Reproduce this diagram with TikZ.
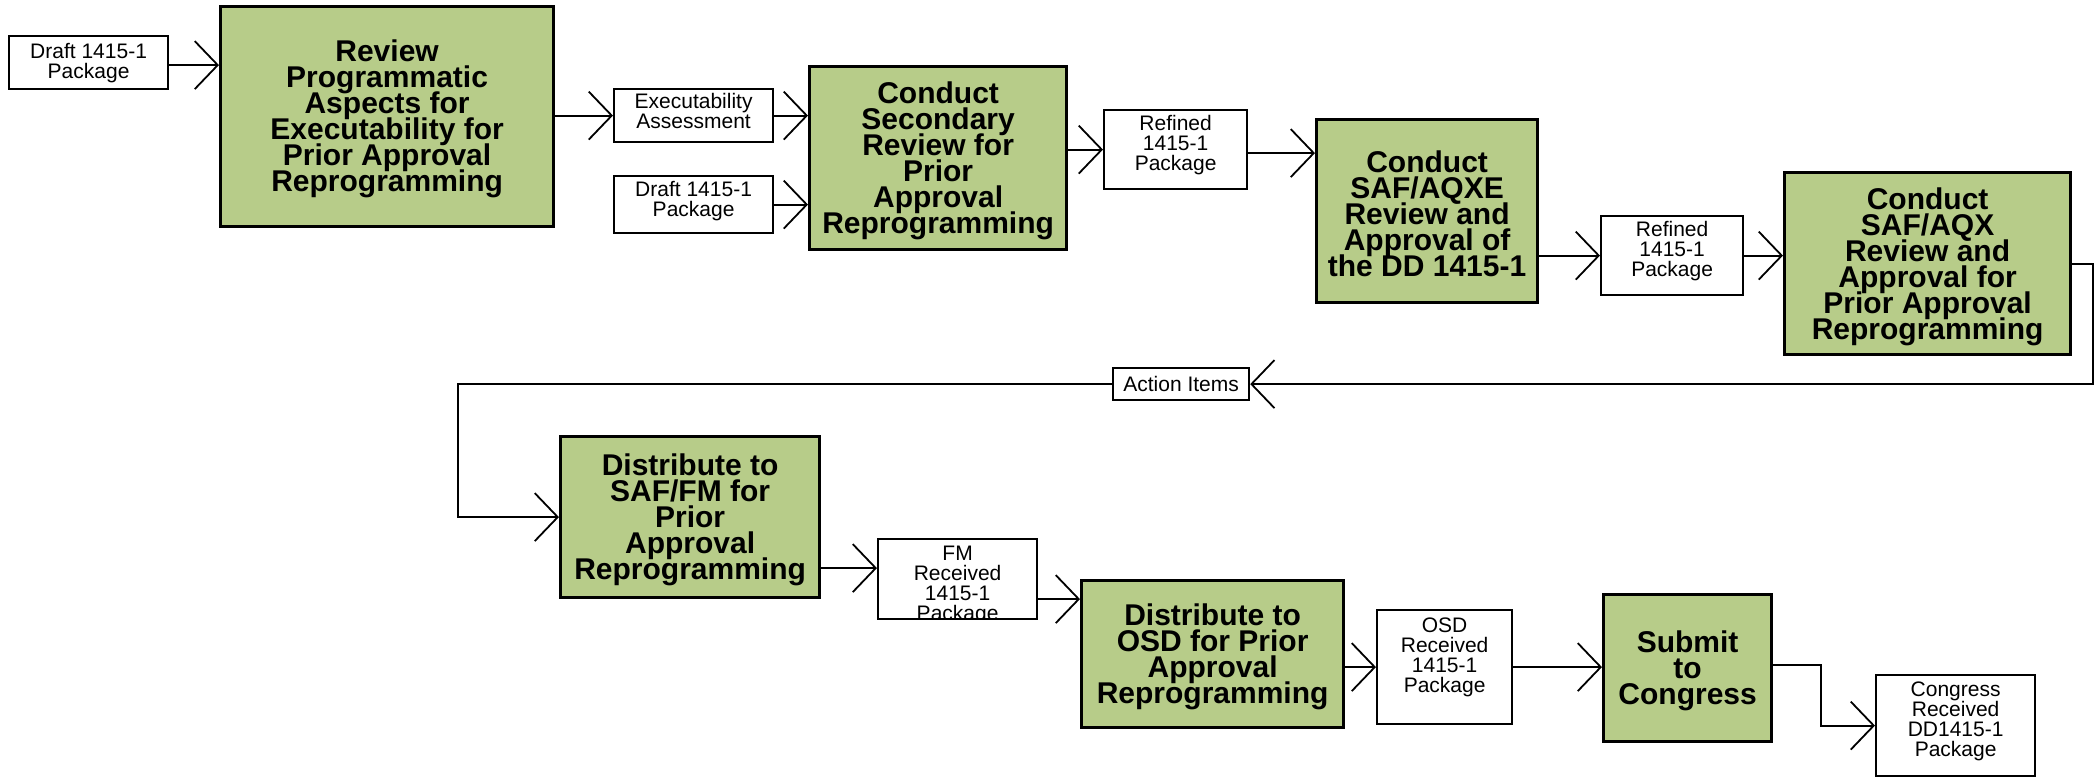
\documentclass[tikz,border=0pt]{standalone}
\usepackage{fontspec}
\setmainfont{Liberation Sans}
\usetikzlibrary{arrows.meta,calc}
\definecolor{gfill}{RGB}{183,204,137}
\newcommand{\myheight}[1]{\rule{0pt}{#1}}
\newcommand{\mydepth}[1]{\rule[-#1]{0pt}{#1}}
\newcommand{\tightlines}{\lineskiplimit -100pt\relax}
\tikzset{
  gbox/.style={draw=black, line width=3.2pt, fill=gfill, inner sep=0pt, anchor=north west,
    align=center, font=\bfseries\fontsize{30}{26}\selectfont\tightlines},
  wbox/.style={draw=black, line width=2.2pt, fill=white, inner sep=0pt, anchor=north west,
    align=center, font=\fontsize{21}{20}\selectfont\tightlines},
  conn/.style={line width=1.8pt, -{Straight Barb[length=23pt,width=48pt]}},
}
\begin{document}
\begin{tikzpicture}[x=1pt,y=-1pt]
\useasboundingbox (0,0) rectangle (2097,777);
% top row
\node[wbox, minimum width=159, minimum height=53] (d1) at (8,35) {Draft 1415-1\\Package};
\node[gbox, minimum width=333, minimum height=220] (g1) at (219,5) {\myheight{27pt}Review\\Programmatic\\Aspects for\\Executability for\\Prior Approval\\Reprogramming};
\node[wbox, minimum width=159, minimum height=53] (exec) at (613,88) {Executability\\Assessment\mydepth{8.5pt}};
\node[wbox, minimum width=159, minimum height=57] (d2) at (613,175) {Draft 1415-1\\Package\mydepth{11.5pt}};
\node[gbox, minimum width=257, minimum height=183] (g2) at (808,65) {\myheight{28pt}Conduct\\Secondary\\Review for\\Prior\\Approval\\Reprogramming};
\node[wbox, minimum width=143, minimum height=79] (ref1) at (1103,109) {Refined\\1415-1\\Package\mydepth{12.5pt}};
\node[gbox, minimum width=221, minimum height=183] (g3) at (1315,118) {\myheight{28pt}Conduct\\SAF/AQXE\\Review and\\Approval of\\the DD 1415-1};
\node[wbox, minimum width=142, minimum height=79] (ref2) at (1600,215) {Refined\\1415-1\\Package\mydepth{12.5pt}};
\node[gbox, minimum width=286, minimum height=182] (g4) at (1783,171) {\myheight{28pt}Conduct\\SAF/AQX\\Review and\\Approval for\\Prior Approval\\Reprogramming};
% middle
\node[wbox, minimum width=136, minimum height=32] (act) at (1112,367) {Action Items};
% bottom row
\node[gbox, minimum width=259, minimum height=161] (g5) at (559,435) {\myheight{28pt}Distribute to\\SAF/FM for\\Prior\\Approval\\Reprogramming};
\node[wbox, minimum width=159, minimum height=80,
  path picture={\node[anchor=center, inner sep=0pt, align=center, font=\fontsize{21}{20}\selectfont\tightlines]
    at ([yshift=-6.5pt]path picture bounding box.center) {FM\\Received\\1415-1\\Package};}] (fm) at (877,538) {};
\node[gbox, minimum width=262, minimum height=147] (g6) at (1080,579) {\myheight{28pt}Distribute to\\OSD for Prior\\Approval\\Reprogramming};
\node[wbox, minimum width=135, minimum height=114] (osd) at (1376,609) {OSD\\Received\\1415-1\\Package\mydepth{24.5pt}};
\node[gbox, minimum width=168, minimum height=147] (g7) at (1602,593) {\myheight{28pt}Submit\\to\\Congress};
\node[wbox, minimum width=159, minimum height=101] (cong) at (1875,674) {Congress\\Received\\DD1415-1\\Package\mydepth{12.5pt}};
% connectors
\draw[conn] ([yshift=-2.5pt]d1.east) -- ([yshift=-2.5pt]d1.east -| g1.west);
\draw[conn] (exec.west -| g1.east) -- (exec.west);
\draw[conn] (exec.east) -- (exec.east -| g2.west);
\draw[conn] (d2.east) -- (d2.east -| g2.west);
\draw[conn] (ref1.west -| g2.east) -- (ref1.west);
\draw[conn] ([yshift=-3.5pt]ref1.east) -- ([yshift=-3.5pt]ref1.east -| g3.west);
\draw[conn] (ref2.west -| g3.east) -- (ref2.west);
\draw[conn] (ref2.east) -- (ref2.east -| g4.west);
\draw[conn] (g4.east) -- ++(21,0) |- (act.east);
\draw[conn] (act.west) -| ([xshift=-101pt]g5.west) -- (g5.west);
\draw[conn] ([yshift=11pt]fm.west -| g5.east) -- ([yshift=11pt]fm.west);
\draw[conn] ([yshift=-20pt]fm.east) -- ([yshift=-20pt]fm.east -| g6.west);
\draw[conn] (osd.west -| g6.east) -- (osd.west);
\draw[conn] (osd.east) -- (osd.east -| g7.west);
\draw[conn] ([yshift=3pt]g7.east) -- ++(48,0) |- (cong.west);
\end{tikzpicture}
\end{document}
